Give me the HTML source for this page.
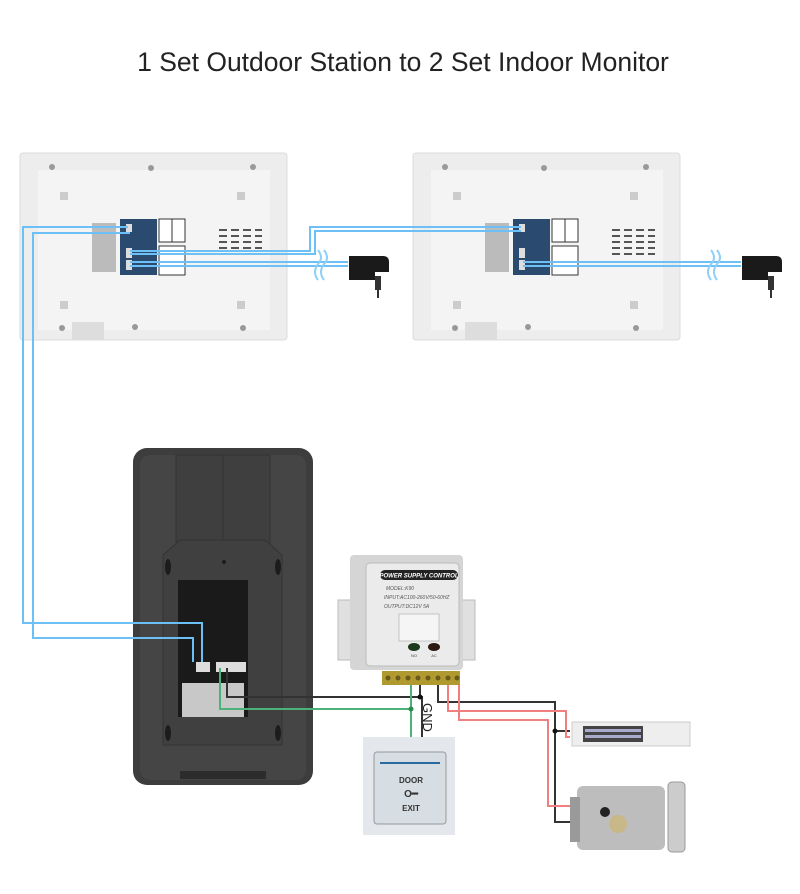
<!DOCTYPE html>
<html><head><meta charset="utf-8"><style>
html,body{margin:0;padding:0;background:#fff;}
svg{display:block;font-family:"Liberation Sans",sans-serif;}
</style></head><body>
<svg width="800" height="894" viewBox="0 0 800 894" xmlns="http://www.w3.org/2000/svg">
<rect width="800" height="894" fill="#fff"/>
<text x="403" y="71" text-anchor="middle" font-size="26.5" fill="#222">1 Set Outdoor Station to 2 Set Indoor Monitor</text>

<defs>
<g id="mon">
  <rect x="20" y="153" width="267" height="187" rx="3" fill="#ededed" stroke="#dcdcdc"/>
  <rect x="38" y="170" width="232" height="160" fill="#f4f4f4"/>
  <circle cx="52" cy="167" r="3" fill="#999"/><circle cx="151" cy="168" r="3" fill="#999"/><circle cx="253" cy="167" r="3" fill="#999"/>
  <circle cx="62" cy="328" r="3" fill="#999"/><circle cx="135" cy="327" r="3" fill="#999"/><circle cx="243" cy="328" r="3" fill="#999"/>
  <rect x="60" y="192" width="8" height="8" fill="#ccc"/><rect x="237" y="192" width="8" height="8" fill="#ccc"/>
  <rect x="60" y="301" width="8" height="8" fill="#ccc"/><rect x="237" y="301" width="8" height="8" fill="#ccc"/>
  <rect x="72" y="322" width="32" height="18" fill="#ddd"/>
  <rect x="92" y="223" width="24" height="49" fill="#bbb"/>
  <rect x="120" y="219" width="37" height="56" fill="#2a4a70"/>
  <rect x="159" y="219" width="26" height="23" fill="#fff" stroke="#333"/>
  <rect x="159" y="246" width="26" height="29" fill="#fff" stroke="#333"/>
  <line x1="172" y1="219" x2="172" y2="242" stroke="#333"/>
  <g stroke="#555" stroke-width="2">
    <line x1="219" y1="230" x2="262" y2="230" stroke-dasharray="8,4"/>
    <line x1="219" y1="236" x2="262" y2="236" stroke-dasharray="8,4"/>
    <line x1="219" y1="242" x2="262" y2="242" stroke-dasharray="8,4"/>
    <line x1="219" y1="248" x2="262" y2="248" stroke-dasharray="8,4"/>
    <line x1="219" y1="254" x2="262" y2="254" stroke-dasharray="8,4"/>
  </g>
  <rect x="126" y="224" width="6" height="8" fill="#ddd"/>
  <rect x="126" y="248" width="6" height="10" fill="#ddd"/>
  <rect x="126" y="260" width="6" height="10" fill="#ddd"/>
  <g stroke="#6cc0f5" stroke-width="2" fill="none">
    <line x1="130" y1="262" x2="348" y2="262"/>
    <line x1="130" y1="266" x2="348" y2="266"/>
    <path d="M318 250 q6 8 0 14 q-6 8 0 16" stroke="#8fd0f8"/>
    <path d="M324 250 q6 8 0 14 q-6 8 0 16" stroke="#8fd0f8"/>
  </g>
  <path d="M349 256 h34 q6 0 6 6 v10 h-14 v8 h-26 z" fill="#1a1a1a"/>
  <rect x="375" y="276" width="6" height="14" fill="#333"/>
  <line x1="378" y1="290" x2="378" y2="298" stroke="#333" stroke-width="2"/>
</g>
</defs>
<use href="#mon"/>
<use href="#mon" transform="translate(393,0)"/>

<!-- outdoor station -->
<rect x="133" y="448" width="180" height="337" rx="14" fill="#3d3d3d"/>
<rect x="140" y="455" width="166" height="325" rx="10" fill="#454545"/>
<rect x="176" y="455" width="94" height="100" fill="#3f3f3f" stroke="#333"/>
<line x1="223" y1="455" x2="223" y2="540" stroke="#333"/>
<path d="M163 555 L180 540 H265 L282 555 V745 H163 Z" fill="#404040" stroke="#333"/>
<ellipse cx="168" cy="567" rx="3" ry="8" fill="#1c1c1c"/><ellipse cx="278" cy="567" rx="3" ry="8" fill="#1c1c1c"/>
<ellipse cx="168" cy="733" rx="3" ry="8" fill="#1c1c1c"/><ellipse cx="278" cy="733" rx="3" ry="8" fill="#1c1c1c"/>
<circle cx="224" cy="562" r="2" fill="#1c1c1c"/>
<rect x="178" y="580" width="70" height="137" fill="#1a1a1a"/>
<rect x="182" y="683" width="62" height="34" fill="#c8c8c8"/>
<rect x="196" y="662" width="14" height="10" fill="#ddd"/>
<rect x="216" y="662" width="30" height="10" fill="#ddd"/>
<rect x="180" y="771" width="86" height="8" fill="#2c2c2c"/>

<!-- blue wires -->
<g stroke="#6cc0f5" stroke-width="2" fill="none">
  <path d="M128 227 H23 V623 H202 V662"/>
  <path d="M130 233 H33 V638 H193 V662"/>
  <path d="M130 251 H310 V227 H521"/>
  <path d="M130 254 H315 V231 H521"/>
</g>

<!-- PSU -->
<rect x="338" y="600" width="14" height="60" fill="#e0e0e0" stroke="#bbb"/>
<rect x="461" y="600" width="14" height="60" fill="#e0e0e0" stroke="#bbb"/>
<rect x="350" y="555" width="113" height="115" rx="4" fill="#d5d5d5"/>
<rect x="366" y="563" width="93" height="103" rx="4" fill="#ebebeb" stroke="#bbb"/>
<rect x="380" y="570" width="78" height="10" rx="5" fill="#222"/>
<text x="419" y="577.5" text-anchor="middle" font-size="6" font-weight="bold" fill="#fff" font-style="italic">POWER SUPPLY CONTROL</text>
<text x="386" y="590" font-size="5" fill="#555" font-style="italic">MODEL:K90</text>
<text x="384" y="599" font-size="5" fill="#555" font-style="italic">INPUT:AC100-260V/50-60HZ</text>
<text x="384" y="608" font-size="5" fill="#555" font-style="italic">OUTPUT:DC12V 5A</text>
<rect x="399" y="614" width="40" height="27" fill="#f5f5f5" stroke="#999" stroke-width="0.5"/>
<ellipse cx="414" cy="647" rx="6" ry="4" fill="#1e3a1e"/><ellipse cx="434" cy="647" rx="6" ry="4" fill="#2a1a12"/>
<text x="414" y="657" text-anchor="middle" font-size="4" fill="#444">NO</text>
<text x="434" y="657" text-anchor="middle" font-size="4" fill="#444">AC</text>
<rect x="382" y="671" width="78" height="14" fill="#b09a30"/>
<g fill="#6a5a1a"><circle cx="388" cy="678" r="2.5"/><circle cx="398" cy="678" r="2.5"/><circle cx="408" cy="678" r="2.5"/><circle cx="418" cy="678" r="2.5"/><circle cx="428" cy="678" r="2.5"/><circle cx="438" cy="678" r="2.5"/><circle cx="448" cy="678" r="2.5"/><circle cx="457" cy="678" r="2.5"/></g>

<!-- wires -->
<g fill="none" stroke-width="2">
  <path d="M227 668 V697 H422 V737" stroke="#333"/>
  <path d="M220 668 V709 H411 V737" stroke="#4cb27a"/>
  <path d="M411 685 V709" stroke="#4cb27a"/>
  <path d="M420 685 V697" stroke="#333"/>
  <path d="M438 685 V702 H555 V822 H575" stroke="#333"/>
  <path d="M555 731 H570" stroke="#333"/>
  <path d="M448 685 V711 H566 V737 H570" stroke="#f08080"/>
  <path d="M459 685 V720 H548 V806 H575" stroke="#f08080"/>
</g>
<circle cx="420" cy="697" r="2.5" fill="#111"/><circle cx="411" cy="709" r="2.5" fill="#2a8a50"/><circle cx="555" cy="731" r="2.5" fill="#111"/>
<text x="0" y="0" font-size="13" fill="#222" transform="translate(423,703) rotate(90)">GND</text>

<!-- exit button -->
<rect x="363" y="737" width="92" height="98" fill="#e4e8ec"/>
<rect x="374" y="752" width="72" height="72" rx="3" fill="#d6dde3" stroke="#999"/>
<line x1="380" y1="763" x2="440" y2="763" stroke="#2a6aa0" stroke-width="2"/>
<text x="411" y="783" text-anchor="middle" font-size="8" font-weight="bold" fill="#333">DOOR</text>
<text x="411" y="797" text-anchor="middle" font-size="10" font-weight="bold" fill="#333">O━</text>
<text x="411" y="811" text-anchor="middle" font-size="8" font-weight="bold" fill="#333">EXIT</text>

<!-- magnetic lock -->
<rect x="572" y="722" width="118" height="24" fill="#eee" stroke="#ccc"/>
<rect x="583" y="726" width="60" height="16" fill="#444"/>
<rect x="585" y="729" width="56" height="3" fill="#aac"/><rect x="585" y="735" width="56" height="3" fill="#aac"/>

<!-- electric lock -->
<rect x="577" y="786" width="88" height="64" rx="6" fill="#bdbdbd"/>
<rect x="570" y="797" width="10" height="45" fill="#9a9a9a"/>
<circle cx="605" cy="812" r="5" fill="#222"/>
<circle cx="618" cy="824" r="9" fill="#c8b888"/>
<rect x="668" y="782" width="17" height="70" rx="4" fill="#ccc" stroke="#999"/>
</svg>
</body></html>
